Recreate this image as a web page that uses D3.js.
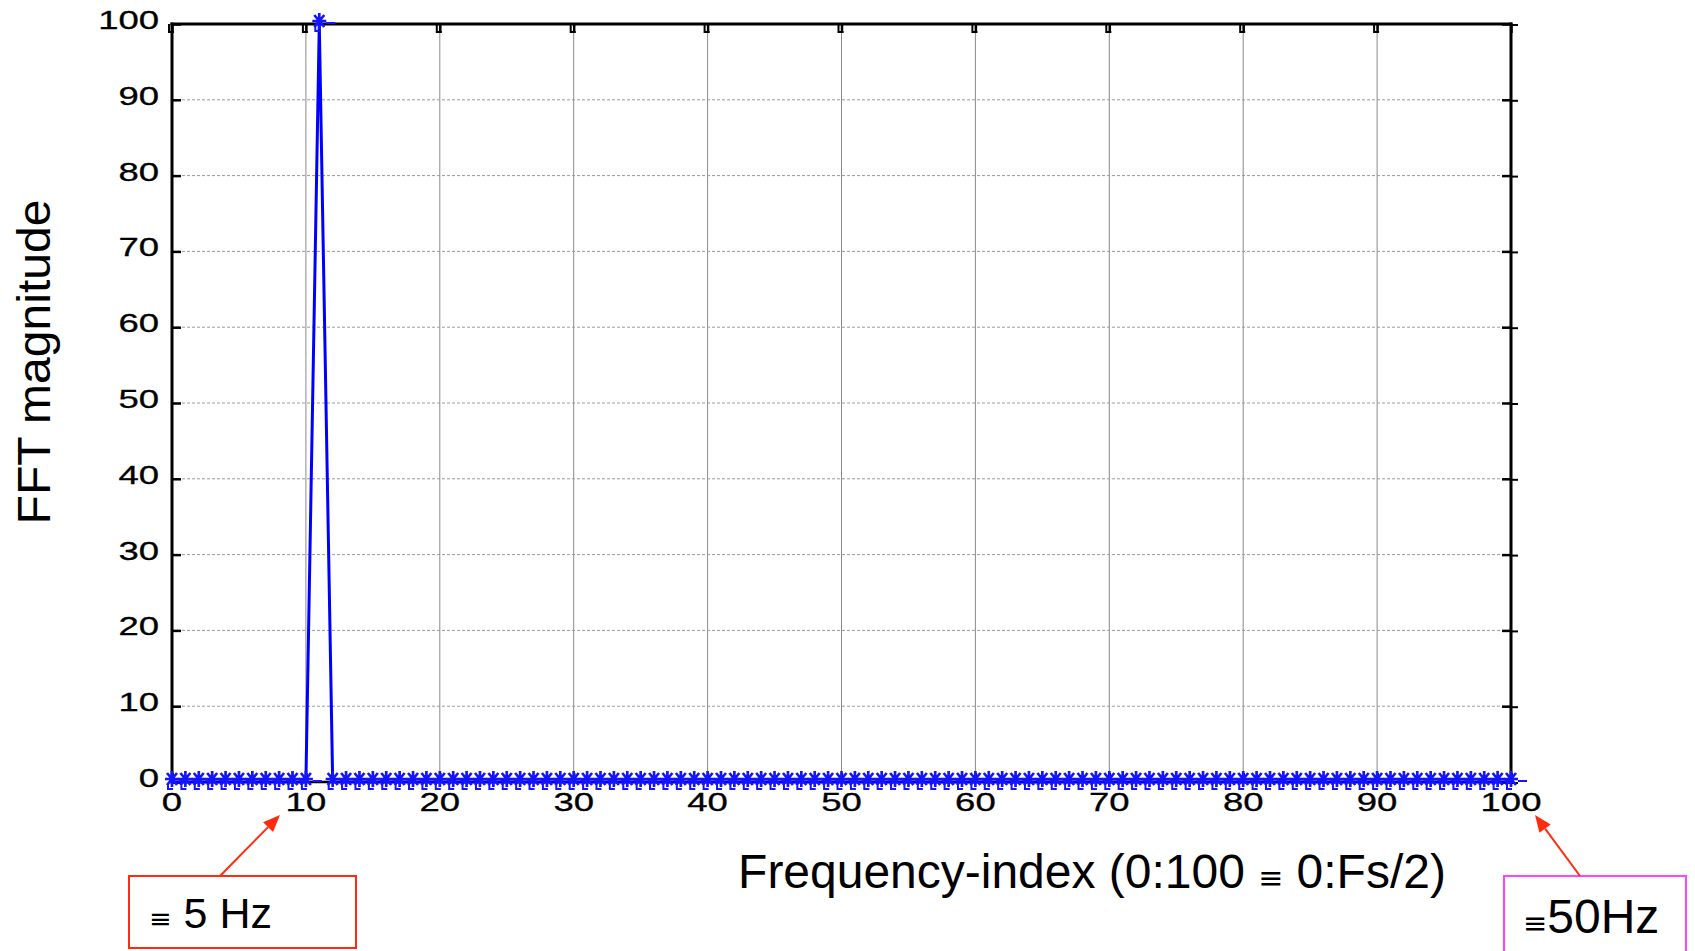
<!DOCTYPE html>
<html>
<head>
<meta charset="utf-8">
<script src="https://cdn.jsdelivr.net/npm/d3@7"></script>
<style>
  body { margin: 0; background: #fff; }
  svg { display: block; }
  text { font-family: "Liberation Sans", Arial, Helvetica, sans-serif; fill: #000; }
</style>
</head>
<body>
<svg id="chart" width="1695" height="951"></svg>
<script>
// One-sided FFT magnitude, frequency index 0..100 (0..Fs/2)
const magnitude = [
  0, 0, 0, 0, 0, 0, 0, 0, 0, 0,
  0, 100, 0, 0, 0, 0, 0, 0, 0, 0,
  0, 0, 0, 0, 0, 0, 0, 0, 0, 0,
  0, 0, 0, 0, 0, 0, 0, 0, 0, 0,
  0, 0, 0, 0, 0, 0, 0, 0, 0, 0,
  0, 0, 0, 0, 0, 0, 0, 0, 0, 0,
  0, 0, 0, 0, 0, 0, 0, 0, 0, 0,
  0, 0, 0, 0, 0, 0, 0, 0, 0, 0,
  0, 0, 0, 0, 0, 0, 0, 0, 0, 0,
  0, 0, 0, 0, 0, 0, 0, 0, 0, 0,
  0
];
const xTickValues = [0, 10, 20, 30, 40, 50, 60, 70, 80, 90, 100];
const yTickValues = [0, 10, 20, 30, 40, 50, 60, 70, 80, 90, 100];
const xTitle = ["Frequency-index (0:100 ", "\u2261", " 0:Fs/2)"];
const yTitle = "FFT magnitude";
const noteLow = ["\u2261", " 5 Hz"];
const noteHigh = ["\u2261", "50Hz"];

const svg = d3.select("#chart");
const plot = { left: 172, right: 1511, top: 24, bottom: 782 };

const x = d3.scaleLinear().domain([0, 100]).range([plot.left, plot.right]);
const y = d3.scaleLinear().domain([0, 100]).range([plot.bottom, plot.top]);

// grid
const grid = svg.append("g");
grid.selectAll("line.vg")
  .data(xTickValues.filter(v => v > 0 && v < 100))
  .join("line")
  .attr("x1", d => x(d)).attr("x2", d => x(d))
  .attr("y1", plot.top).attr("y2", plot.bottom)
  .attr("stroke", "#8a8a8a").attr("stroke-width", 1);
grid.selectAll("line.hg")
  .data(yTickValues.filter(v => v > 0 && v < 100))
  .join("line")
  .attr("x1", plot.left).attr("x2", plot.right)
  .attr("y1", d => y(d)).attr("y2", d => y(d))
  .attr("stroke", "#9a9a9a").attr("stroke-width", 1)
  .attr("stroke-dasharray", "3,2");

// inward ticks on all four sides
const tickLen = 9;
const axes = svg.append("g").attr("stroke", "#000").attr("fill", "none");
axes.append("g").call(d3.axisLeft(y).tickValues(yTickValues).tickSize(-tickLen).tickFormat(""))
  .attr("transform", `translate(${plot.left},0)`);
axes.append("g").call(d3.axisRight(y).tickValues(yTickValues).tickSize(-tickLen).tickFormat(""))
  .attr("transform", `translate(${plot.right},0)`);
axes.append("g").call(d3.axisTop(x).tickValues(xTickValues).tickSize(-tickLen).tickFormat(""))
  .attr("transform", `translate(0,${plot.top})`);
axes.append("g").call(d3.axisBottom(x).tickValues(xTickValues).tickSize(-tickLen).tickFormat(""))
  .attr("transform", `translate(0,${plot.bottom})`);
axes.selectAll(".domain").remove();
axes.selectAll(".tick line").attr("stroke", "#000").attr("stroke-width", 2.5);
// small outward nubs on the right-hand ticks
svg.append("g").selectAll("line")
  .data(yTickValues)
  .join("line")
  .attr("x1", plot.right).attr("x2", plot.right + 7)
  .attr("y1", d => y(d) + 1).attr("y2", d => y(d) + 1)
  .attr("stroke", "#000").attr("stroke-width", 2);
// small hooks under the top ticks
svg.append("g").selectAll("path")
  .data(xTickValues.filter(v => v < 100))
  .join("path")
  .attr("d", d => `M${x(d) - 3},${plot.top}V${plot.top + 8}H${x(d) + 2}`)
  .attr("fill", "none").attr("stroke", "#000").attr("stroke-width", 2);

// frame
const frame = svg.append("g").attr("stroke", "#000").attr("stroke-linecap", "square");
frame.append("line").attr("x1", plot.left).attr("x2", plot.right).attr("y1", plot.top).attr("y2", plot.top).attr("stroke-width", 3);
frame.append("line").attr("x1", plot.left).attr("x2", plot.left).attr("y1", plot.top).attr("y2", plot.bottom).attr("stroke-width", 3);
frame.append("line").attr("x1", plot.right).attr("x2", plot.right).attr("y1", plot.top).attr("y2", plot.bottom).attr("stroke-width", 3);
frame.append("line").attr("x1", plot.left).attr("x2", plot.right).attr("y1", plot.bottom).attr("y2", plot.bottom).attr("stroke-width", 2.5);

// tick labels (wide face)
const labelScale = 1.46;
svg.append("g").selectAll("text")
  .data(yTickValues)
  .join("text")
  .attr("transform", d => `translate(159,${y(d) + 5}) scale(${labelScale},1)`)
  .attr("text-anchor", "end")
  .attr("font-size", 25)
  .attr("stroke", "#000").attr("stroke-width", 0.3)
  .text(d => d);
svg.append("g").selectAll("text")
  .data(xTickValues)
  .join("text")
  .attr("transform", d => `translate(${x(d)},${plot.bottom + 29}) scale(${labelScale},1)`)
  .attr("text-anchor", "middle")
  .attr("font-size", 25)
  .attr("stroke", "#000").attr("stroke-width", 0.3)
  .text(d => d);

// data line
const series = magnitude.map((v, i) => ({ i, v }));
svg.append("path")
  .datum(series)
  .attr("fill", "none")
  .attr("stroke", "#0000ff")
  .attr("stroke-width", 3)
  .attr("stroke-linejoin", "miter")
  .attr("d", d3.line().x(d => x(d.i)).y(d => y(d.v)));

// asterisk markers
const star = "M-7,0H7M0,-8V8M-5,-6L5,6M-5,6L5,-6";
const trail = "M7,2H16M-4,4V10H1";
const markers = svg.append("g").attr("fill", "none").attr("stroke", "#1414ff");
markers.selectAll("g")
  .data(series)
  .join("g")
  .attr("transform", d => `translate(${x(d.i)},${y(d.v) - 3})`)
  .call(g => g.append("path").attr("d", star).attr("stroke-width", 2.7))
  .call(g => g.append("path").attr("d", trail).attr("stroke-width", 2));

// axis titles
function fitWidth(sel, target) {
  const w = sel.node().getComputedTextLength();
  return target / w;
}
const xt = svg.append("text")
  .attr("font-size", 48)
  .attr("text-anchor", "middle");
xt.append("tspan").text(xTitle[0]);
xt.append("tspan").attr("font-size", 30).attr("font-family", "DejaVu Sans").text(xTitle[1]);
xt.append("tspan").text(xTitle[2]);
const xs = fitWidth(xt, 708);
xt.attr("transform", `translate(1092,888) scale(${xs},1)`);

const yt = svg.append("text")
  .attr("font-size", 46)
  .attr("text-anchor", "middle")
  .text(yTitle);
const ys = fitWidth(yt, 325);
yt.attr("transform", `translate(50,362) rotate(-90) scale(${ys},1)`);

// annotation boxes with arrows
const red = "#ff2b0f";
const magenta = "#ff44ff";

function arrow(x1, y1, x2, y2, color) {
  const ang = Math.atan2(y2 - y1, x2 - x1);
  const L = 17, W = 7;
  const bx = x2 - L * Math.cos(ang), by = y2 - L * Math.sin(ang);
  svg.append("line")
    .attr("x1", x1).attr("y1", y1).attr("x2", bx).attr("y2", by)
    .attr("stroke", color).attr("stroke-width", 2);
  const px = -Math.sin(ang) * W, py = Math.cos(ang) * W;
  svg.append("path")
    .attr("d", `M${x2},${y2}L${bx + px},${by + py}L${bx - px},${by - py}Z`)
    .attr("fill", color);
}

svg.append("rect")
  .attr("x", 129).attr("y", 876).attr("width", 227).attr("height", 72)
  .attr("fill", "none").attr("stroke", red).attr("stroke-width", 2);
arrow(220, 876, 280, 815, red);
const t1 = svg.append("text").attr("x", 149).attr("y", 928).attr("font-size", 43);
t1.append("tspan").attr("font-size", 27).attr("font-family", "DejaVu Sans").text(noteLow[0]);
t1.append("tspan").text(noteLow[1]);

svg.append("rect")
  .attr("x", 1504).attr("y", 876).attr("width", 182).attr("height", 90)
  .attr("fill", "none").attr("stroke", magenta).attr("stroke-width", 2);
arrow(1580, 876, 1535, 815, red);
const t2 = svg.append("text").attr("x", 1523).attr("y", 933).attr("font-size", 48);
t2.append("tspan").attr("font-size", 29).attr("font-family", "DejaVu Sans").text(noteHigh[0]);
t2.append("tspan").text(noteHigh[1]);
</script>
</body>
</html>
